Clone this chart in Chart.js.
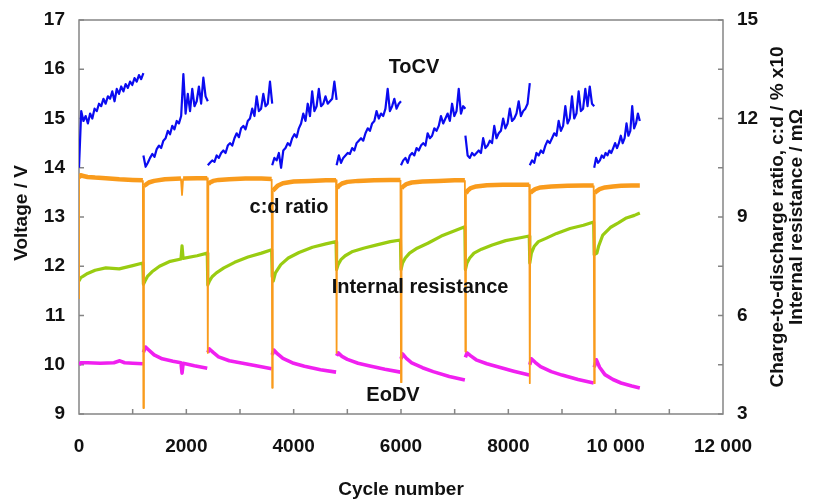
<!DOCTYPE html>
<html>
<head>
<meta charset="utf-8">
<script src="https://cdn.jsdelivr.net/npm/chart.js@4.4.1/dist/chart.umd.min.js"></script>
<style>
  html, body { margin: 0; padding: 0; background: #fff; }
</style>
</head>
<body>
<canvas id="chart" width="814" height="502"></canvas>
<script>
// charge/discharge blocks (cycle number)
const segStart = [0, 1200, 2400, 3600, 4800, 6000, 7200, 8400, 9600];
const segEnd = [1200, 2400, 3600, 4800, 6000, 7200, 8400, 9600, 10450];

// ToCV (V), evenly sampled over each block
const tocvSegments = [
  [14.0, 15.15, 14.95, 15.05, 14.9, 15.1, 15.0, 15.2, 15.15, 15.3, 15.25, 15.4, 15.3, 15.45, 15.4, 15.55, 15.35, 15.6, 15.5, 15.65, 15.55, 15.7, 15.62, 15.75, 15.68, 15.82, 15.75, 15.88, 15.8, 15.92],
  [14.25, 14.02, 14.1, 14.2, 14.28, 14.22, 14.38, 14.45, 14.4, 14.55, 14.6, 14.75, 14.68, 14.85, 14.78, 14.95, 14.9, 15.05, 15.9, 15.1, 15.5, 15.15, 15.6, 15.25, 15.35, 15.65, 15.3, 15.83, 15.45, 15.35],
  [14.05, 14.1, 14.15, 14.12, 14.25, 14.2, 14.3, 14.35, 14.3, 14.45, 14.5, 14.45, 14.6, 14.7, 14.62, 14.8, 14.85, 14.78, 14.95, 15.0, 15.2, 15.05, 15.45, 15.15, 15.2, 15.5, 15.25, 15.3, 15.75, 15.3],
  [14.05, 14.2, 14.15, 14.3, 14.0, 14.35, 14.4, 14.5, 14.45, 14.6, 14.68, 14.62, 14.8, 14.9, 15.1, 14.95, 15.3, 15.05, 15.55, 15.15, 15.25, 15.6, 15.25, 15.3, 15.45, 15.3, 15.35, 15.4, 15.75, 15.38],
  [14.05, 14.25, 14.1, 14.2, 14.25, 14.3, 14.28, 14.4, 14.35, 14.5, 14.55, 14.6, 14.55, 14.7, 14.8, 14.75, 14.9, 14.95, 15.15, 15.0, 15.1, 15.05, 15.2, 15.6, 15.15, 15.25, 15.4, 15.2, 15.3, 15.35],
  [14.05, 14.15, 14.2, 14.1, 14.25, 14.3, 14.25, 14.4, 14.35, 14.45, 14.5, 14.45, 14.7, 14.6, 14.65, 14.8, 14.75, 14.85, 15.05, 14.9, 15.0, 15.1, 14.95, 15.3, 15.05, 15.15, 15.6, 15.1, 15.25, 15.2],
  [14.65, 14.25, 14.2, 14.3, 14.25, 14.3, 14.35, 14.3, 14.6, 14.4, 14.45, 14.55, 14.5, 14.85, 14.6, 14.7, 14.75, 15.0, 14.8, 14.9, 15.2, 14.95, 15.0, 15.1, 15.35, 15.05, 15.15, 15.2, 15.3, 15.72],
  [14.05, 14.15, 14.1, 14.3, 14.25, 14.35, 14.3, 14.45, 14.55, 14.5, 14.6, 14.7, 14.65, 14.95, 14.75, 14.85, 15.25, 14.9, 15.0, 15.45, 15.0, 15.1, 15.55, 15.15, 15.2, 15.6, 15.25, 15.65, 15.3, 15.25],
  [14.0, 14.2, 14.1, 14.15, 14.25, 14.2, 14.3, 14.25, 14.35, 14.3, 14.4, 14.5, 14.4, 14.5, 14.65, 14.5, 14.6, 14.9, 14.65, 14.75, 15.25, 14.8, 14.9, 15.1, 14.95]
];

// c:d ratio (right axis)
const cdCycles = [0, 0, 30, 80, 160, 300, 500, 750, 1000, 1190,
  1200, 1210, 1240, 1300, 1400, 1600, 1900, 1920, 1940, 2200, 2390,
  2400, 2410, 2440, 2500, 2600, 2800, 3100, 3400, 3590,
  3600, 3610, 3640, 3700, 3800, 4000, 4300, 4600, 4790,
  4800, 4810, 4840, 4900, 5000, 5200, 5500, 5800, 5990,
  6000, 6010, 6040, 6100, 6200, 6400, 6700, 7000, 7190,
  7200, 7210, 7240, 7300, 7400, 7600, 7900, 8200, 8390,
  8400, 8410, 8440, 8500, 8600, 8800, 9100, 9400, 9590,
  9600, 9610, 9640, 9700, 9800, 9950, 10100, 10300, 10450];
const cdRatio = [6.5, 10.2, 10.27, 10.25, 10.22, 10.2, 10.18, 10.15, 10.13, 10.12,
  3.18, 9.95, 9.98, 10.05, 10.1, 10.15, 10.17, 9.67, 10.17, 10.18, 10.18,
  4.86, 10.0, 10.05, 10.1, 10.13, 10.15, 10.17, 10.17, 10.16,
  3.8, 9.8, 9.85, 9.95, 10.03, 10.08, 10.1, 10.12, 10.12,
  4.86, 9.88, 9.95, 10.02, 10.07, 10.1, 10.12, 10.13, 10.13,
  3.97, 9.88, 9.93, 10.0, 10.05, 10.08, 10.1, 10.12, 10.12,
  4.9, 9.72, 9.8, 9.88, 9.93, 9.97, 9.98, 9.98, 9.98,
  3.94, 9.73, 9.78, 9.85, 9.9, 9.93, 9.95, 9.96, 9.96,
  3.94, 9.73, 9.78, 9.85, 9.9, 9.93, 9.95, 9.96, 9.96];

// internal resistance, mOhm (right axis)
const irCycles = [0, 30, 80, 160, 300, 500, 750, 1000, 1190,
  1200, 1230, 1280, 1360, 1500, 1700, 1900, 1920, 1940, 2200, 2390,
  2400, 2430, 2480, 2560, 2700, 2900, 3150, 3400, 3590,
  3600, 3620, 3660, 3760, 3900, 4100, 4350, 4600, 4790,
  4800, 4830, 4880, 4960, 5100, 5300, 5550, 5800, 5990,
  6000, 6030, 6080, 6160, 6300, 6500, 6750, 7000, 7190,
  7200, 7230, 7280, 7360, 7500, 7700, 7950, 8200, 8390,
  8400, 8430, 8480, 8560, 8700, 8900, 9150, 9400, 9590,
  9600, 9650, 9680, 9760, 9900, 10050, 10200, 10350, 10450];
const irValues = [7.05, 7.15, 7.2, 7.28, 7.38, 7.45, 7.42, 7.52, 7.6,
  6.95, 7.05, 7.2, 7.33, 7.5, 7.65, 7.72, 8.12, 7.74, 7.82, 7.9,
  6.93, 7.05, 7.18, 7.3, 7.45, 7.62, 7.78, 7.9, 8.0,
  7.2, 7.05, 7.3, 7.55, 7.75, 7.92, 8.08, 8.18, 8.25,
  7.4, 7.55, 7.7, 7.82, 7.95, 8.05, 8.15, 8.25, 8.3,
  7.4, 7.6, 7.75, 7.9, 8.05, 8.2, 8.42, 8.58, 8.7,
  7.4, 7.6, 7.75, 7.9, 8.02, 8.15, 8.28, 8.36, 8.42,
  7.6, 7.9, 8.1, 8.25, 8.35, 8.5, 8.65, 8.75, 8.85,
  7.85, 7.9, 8.1, 8.45, 8.68, 8.82, 8.97, 9.05, 9.12];

// EoDV (V), null = break between blocks
const eodvCycles = [0, 30, 160, 400, 650, 760, 850, 1000, 1190, 1195,
  1200, 1240, 1300, 1400, 1550, 1750, 1900, 1920, 1940, 2150, 2390, 2395,
  2400, 2430, 2500, 2600, 2800, 3000, 3300, 3590, 3595,
  3600, 3630, 3700, 3800, 4000, 4200, 4500, 4790, 4795,
  4800, 4830, 4900, 5000, 5200, 5400, 5700, 5990, 5995,
  6000, 6030, 6100, 6200, 6400, 6600, 6900, 7190, 7195,
  7200, 7230, 7300, 7400, 7600, 7800, 8100, 8390, 8395,
  8400, 8430, 8500, 8600, 8800, 9000, 9300, 9590, 9595,
  9600, 9640, 9700, 9800, 9950, 10100, 10300, 10450];
const eodvVolts = [10.0, 10.04, 10.04, 10.03, 10.04, 10.08, 10.04, 10.03, 10.02, null,
  10.25, 10.36, 10.3, 10.2, 10.12, 10.07, 10.04, 9.83, 10.03, 9.98, 9.93, null,
  10.25, 10.32, 10.25, 10.16, 10.08, 10.04, 9.98, 9.92, null,
  10.2, 10.3, 10.22, 10.13, 10.03, 9.97, 9.9, 9.85, null,
  10.18, 10.24, 10.17, 10.11, 10.03, 9.98, 9.91, 9.85, null,
  10.12, 10.22, 10.13, 10.04, 9.94, 9.86, 9.76, 9.69, null,
  10.15, 10.24, 10.18, 10.1, 10.02, 9.96, 9.87, 9.79, null,
  10.0, 10.12, 10.05, 9.96, 9.86, 9.79, 9.7, 9.63, null,
  9.95, 10.1, 9.95, 9.8, 9.7, 9.63, 9.57, 9.53];

const FONT = '"Liberation Sans", Arial, sans-serif';

function pairs(xs, ys) {
  return xs.map((x, i) => ({ x: x, y: ys[i] }));
}

function tocvPoints() {
  const pts = [];
  tocvSegments.forEach((vals, s) => {
    const step = (segEnd[s] - segStart[s]) / (vals.length - 1);
    vals.forEach((v, i) => pts.push({ x: segStart[s] + i * step, y: v }));
    pts.push({ x: segEnd[s] + 1, y: null });
  });
  return pts;
}

function cycleLabel(v) {
  return v >= 10000 ? String(v).replace(/(\d{3})$/, ' $1') : String(v);
}

// vertical axes: fixed box width, no extra room for the end labels
function fixWidth(w) {
  return s => { s.width = w; s.paddingTop = 0; s.paddingBottom = 0; };
}

const decorations = {
  id: 'decorations',
  beforeDatasetsDraw(chart) {
    const { ctx, chartArea: a, scales } = chart;
    ctx.save();
    ctx.strokeStyle = '#858585';
    ctx.lineWidth = 1.5;
    ctx.strokeRect(a.left, a.top, a.right - a.left, a.bottom - a.top);
    ctx.beginPath();
    for (let v = 9; v <= 17; v++) {
      const y = scales.y.getPixelForValue(v);
      ctx.moveTo(a.left, y); ctx.lineTo(a.left + 5, y);
    }
    for (let v = 3; v <= 15; v += 1.5) {
      const y = scales.y2.getPixelForValue(v);
      ctx.moveTo(a.right, y); ctx.lineTo(a.right - 5, y);
    }
    for (let v = 1000; v < 12000; v += 1000) {
      const x = scales.x.getPixelForValue(v);
      ctx.moveTo(x, a.bottom); ctx.lineTo(x, a.bottom - 5);
    }
    ctx.stroke();
    ctx.restore();
  },
  afterDraw(chart) {
    const { ctx, chartArea: a } = chart;
    const midY = (a.top + a.bottom) / 2;
    ctx.save();
    ctx.fillStyle = '#111';
    ctx.textAlign = 'center';
    ctx.textBaseline = 'middle';

    ctx.font = 'bold 19px ' + FONT;
    ctx.fillText('Cycle number', (a.left + a.right) / 2, 490);

    ctx.save();
    ctx.translate(22, midY - 4);
    ctx.rotate(-Math.PI / 2);
    ctx.fillText('Voltage / V', 0, 0);
    ctx.restore();

    ctx.save();
    ctx.translate(778, midY);
    ctx.rotate(-Math.PI / 2);
    ctx.fillText('Charge-to-discharge ratio, c:d / % x10', 0, 0);
    ctx.fillText('Internal resistance / m\u03A9', 0, 19);
    ctx.restore();

    ctx.font = 'bold 20px ' + FONT;
    ctx.fillText('ToCV', 414, 67);
    ctx.fillText('c:d ratio', 289, 207);
    ctx.fillText('Internal resistance', 420, 287);
    ctx.fillText('EoDV', 393, 395);
    ctx.restore();
  }
};

const tickFont = { family: FONT, size: 19, weight: 'bold' };

new Chart(document.getElementById('chart'), {
  type: 'line',
  data: {
    datasets: [
      {
        label: 'c:d ratio',
        data: pairs(cdCycles, cdRatio),
        yAxisID: 'y2',
        borderColor: '#f99b1c',
        borderWidth: 4.5,
        segment: {
          borderWidth: c => Math.abs(c.p1.parsed.y - c.p0.parsed.y) > 0.4 ? 1.8 : 4.5
        }
      },
      {
        label: 'ToCV',
        data: tocvPoints(),
        yAxisID: 'y',
        borderColor: '#0b0bf0',
        borderWidth: 2.2
      },
      {
        label: 'Internal resistance',
        data: pairs(irCycles, irValues),
        yAxisID: 'y2',
        borderColor: '#99cc11',
        borderWidth: 3.2
      },
      {
        label: 'EoDV',
        data: pairs(eodvCycles, eodvVolts),
        yAxisID: 'y',
        borderColor: '#f020f0',
        borderWidth: 3.6
      }
    ]
  },
  options: {
    responsive: false,
    animation: false,
    spanGaps: false,
    layout: { padding: { top: 20, left: 0, right: 0, bottom: 0 } },
    elements: {
      point: { radius: 0, hitRadius: 0, hoverRadius: 0 },
      line: { tension: 0, borderJoinStyle: 'round' }
    },
    plugins: {
      legend: { display: false },
      tooltip: { enabled: false }
    },
    scales: {
      x: {
        type: 'linear',
        min: 0,
        max: 12000,
        grid: { display: false, drawTicks: false },
        border: { display: false },
        ticks: { stepSize: 2000, padding: 21, color: '#111', font: tickFont, callback: cycleLabel, maxRotation: 0 },
        afterFit: s => { s.height = 88; }
      },
      y: {
        position: 'left',
        min: 9,
        max: 17,
        grid: { display: false, drawTicks: false },
        border: { display: false },
        ticks: { stepSize: 1, padding: 14, color: '#111', font: tickFont },
        afterFit: fixWidth(79)
      },
      y2: {
        position: 'right',
        min: 3,
        max: 15,
        grid: { display: false, drawTicks: false },
        border: { display: false },
        ticks: { stepSize: 3, padding: 14, color: '#111', font: tickFont },
        afterFit: fixWidth(91)
      }
    }
  },
  plugins: [decorations]
});
</script>
</body>
</html>
